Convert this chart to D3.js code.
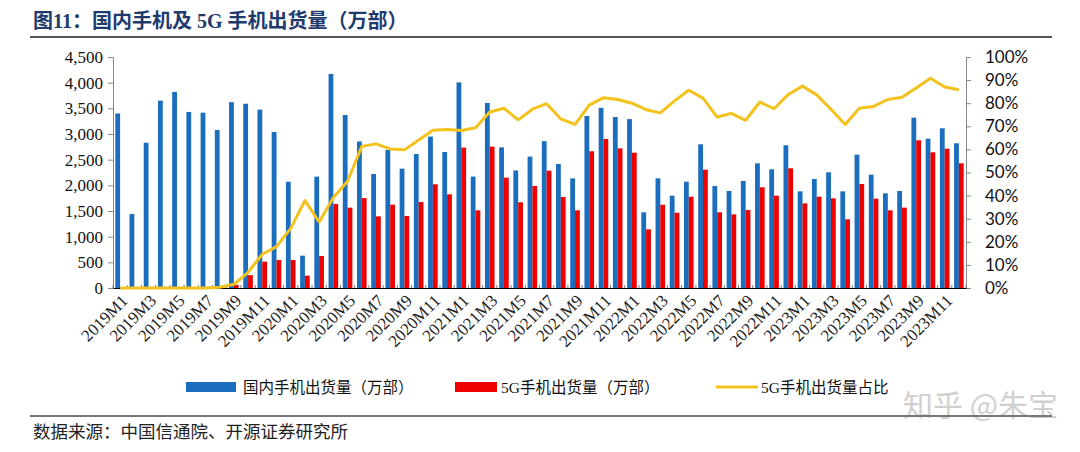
<!DOCTYPE html>
<html><head><meta charset="utf-8">
<script src="https://cdn.jsdelivr.net/npm/d3@7/dist/d3.min.js"></script>
<style>
html,body{margin:0;padding:0;background:#fff;}
svg{display:block;}
</style></head>
<body>
<svg id="chart" width="1080" height="452"></svg>
<script>
const months = [];
for (const y of [2019, 2020, 2021, 2022, 2023]) for (let m = 1; m <= 12; m++) months.push(y + "M" + m);

const domestic = [
  3400, 1440, 2830, 3650, 3820, 3430, 3415, 3080, 3620, 3590, 3475, 3040,
  2070, 630, 2170, 4170, 3370, 2855, 2220, 2690, 2325, 2610, 2950, 2650,
  4005, 2170, 3605, 2740, 2290, 2560, 2860, 2415, 2135, 3350, 3510, 3330,
  3290, 1475, 2137, 1798, 2071, 2799, 1987, 1890, 2085, 2429, 2312, 2780,
  1883, 2123, 2254, 1883, 2597, 2208, 1845, 1890, 3318, 2909, 3111, 2819
];
const fiveG = [
  0, 0, 0, 0, 0, 0, 0, 10, 60, 250, 513, 545,
  545, 240, 623, 1636, 1565, 1753, 1395, 1623, 1403, 1675, 2020, 1825,
  2735, 1513, 2753, 2150, 1670, 1987, 2285, 1773, 1513, 2663, 2903, 2720,
  2636, 1143, 1623, 1467, 1779, 2305, 1474, 1435, 1520, 1961, 1799, 2332,
  1649, 1779, 1747, 1338, 2026, 1740, 1513, 1565, 2877, 2643, 2714, 2429
];
const share = [
  0, 0, 0, 0, 0, 0, 0, 0.3, 1.6, 6.8, 14.6, 17.9,
  25.8, 37.8, 28.6, 39.2, 46.2, 61.3, 62.4, 60.2, 59.8, 64.1, 68.3, 68.6,
  68.2, 69.4, 76.2, 77.8, 72.8, 77.4, 79.8, 73.2, 70.8, 79.2, 82.4, 81.6,
  80.0, 77.2, 75.8, 81.0, 85.6, 82.2, 74.0, 75.6, 72.6, 80.5, 77.6, 83.8,
  87.4, 83.6, 77.4, 70.8, 77.8, 78.6, 81.6, 82.6, 86.6, 90.8, 87.0, 85.8
];
const leftTicks = [0, 500, 1000, 1500, 2000, 2500, 3000, 3500, 4000, 4500];
const rightTicks = [0, 10, 20, 30, 40, 50, 60, 70, 80, 90, 100];
const seriesNames = ["国内手机出货量（万部）", "5G手机出货量（万部）", "5G手机出货量占比"];
const titleText = "图11：国内手机及 5G 手机出货量（万部）";
const sourceText = "数据来源：中国信通院、开源证券研究所";
const watermark = "知乎 @朱宝";

const C_BLUE = "#1b6dbd", C_RED = "#ee0000", C_YEL = "#f4c21c";
const SERIF = "'Liberation Serif','DejaVu Serif',serif";
const CJK = "'Noto Sans CJK SC','Noto Sans CJK JP',sans-serif";

const svg = d3.select("#chart");
const L = 113, R = 966, T = 57, B = 288;

const x = d3.scaleBand().domain(months).range([L, R]).paddingInner(0).paddingOuter(0);
const xs = d3.scaleBand().domain(["d", "g"]).range([0, x.bandwidth()]).paddingInner(0).paddingOuter(0.48);
const yL = d3.scaleLinear().domain([0, 4500]).range([B, T]);
const yR = d3.scaleLinear().domain([0, 100]).range([B, T]);

// Title
svg.append("text").attr("x", 33).attr("y", 28).text(titleText)
  .attr("font-family", "'Liberation Serif'," + CJK).attr("font-weight", "bold")
  .attr("font-size", 20).attr("fill", "#1f3a6d").attr("xml:space", "preserve");
svg.append("line").attr("x1", 30).attr("x2", 1052).attr("y1", 37).attr("y2", 37)
  .attr("stroke", "#555").attr("stroke-width", 2);

// Left axis
const gL = svg.append("g").attr("transform", `translate(${L},0)`)
  .call(d3.axisLeft(yL).tickValues(leftTicks).tickSize(5).tickPadding(5).tickFormat(d3.format(",")));
gL.select(".domain").attr("stroke", "#888");
gL.selectAll(".tick line").attr("stroke", "#888");
gL.selectAll("text").attr("font-family", SERIF).attr("font-size", 17).attr("fill", "#111");

// Right axis
const gR = svg.append("g").attr("transform", `translate(${R},0)`)
  .call(d3.axisRight(yR).tickValues(rightTicks).tickSize(5).tickPadding(14).tickFormat(d => d + "%"));
gR.select(".domain").attr("stroke", "#888");
gR.selectAll(".tick line").attr("stroke", "#888");
gR.selectAll("text").attr("font-family", "Lato,'Open Sans',sans-serif").attr("font-size", 17).attr("fill", "#111");

// Bars
svg.append("g").selectAll("rect.d").data(months).join("rect")
  .attr("x", (m) => x(m) + xs("d")).attr("width", xs.bandwidth())
  .attr("y", (m, i) => yL(domestic[i])).attr("height", (m, i) => B - yL(domestic[i]))
  .attr("fill", C_BLUE);
svg.append("g").selectAll("rect.g").data(months).join("rect")
  .attr("x", (m) => x(m) + xs("g")).attr("width", xs.bandwidth())
  .attr("y", (m, i) => yL(fiveG[i])).attr("height", (m, i) => B - yL(fiveG[i]))
  .attr("fill", C_RED);

// X axis
const gX = svg.append("g").attr("transform", `translate(0,${B})`)
  .call(d3.axisBottom(x).tickSize(0).tickFormat(""));
gX.select(".domain").attr("stroke", "#000").attr("stroke-width", 1.2);
svg.append("g").selectAll("line").data(months.concat(["end"])).join("line")
  .attr("x1", (m, i) => L + i * x.step()).attr("x2", (m, i) => L + i * x.step())
  .attr("y1", B).attr("y2", B - 3).attr("stroke", "#777");
svg.append("g").selectAll("text").data(months.filter((m, i) => i % 2 === 0)).join("text")
  .attr("transform", m => `translate(${x(m) + x.bandwidth() / 2 + 6},${B + 11}) rotate(-45)`)
  .attr("text-anchor", "end").attr("dominant-baseline", "middle")
  .attr("font-family", SERIF).attr("font-size", 17).attr("fill", "#222").text(m => m);

// Line
const line = d3.line().x((d, i) => x(months[i]) + x.bandwidth() / 2).y(d => yR(d));
svg.append("path").datum(share).attr("d", line).attr("fill", "none")
  .attr("stroke", C_YEL).attr("stroke-width", 3).attr("stroke-linejoin", "round");

// Legend
const lg = svg.append("g").attr("font-family", "'Liberation Serif'," + CJK).attr("font-size", 15.5).attr("fill", "#111");
const legItems = [
  { x: 186, w: 50, tx: 243, c: C_BLUE, t: "rect" },
  { x: 455, w: 42, tx: 501, c: C_RED, t: "rect" },
  { x: 716, w: 42, tx: 761, c: C_YEL, t: "line" }
];
legItems.forEach((it, i) => {
  if (it.t === "rect") lg.append("rect").attr("x", it.x).attr("y", 382).attr("width", it.w).attr("height", 10).attr("fill", it.c);
  else lg.append("line").attr("x1", it.x).attr("x2", it.x + it.w).attr("y1", 387).attr("y2", 387).attr("stroke", it.c).attr("stroke-width", 3);
  lg.append("text").attr("x", it.tx).attr("y", 392.5).text(seriesNames[i]);
});

// Watermark
svg.append("text").attr("x", 903).attr("y", 416).text(watermark)
  .attr("font-family", CJK).attr("font-size", 30).attr("fill", "#c8c8c8").attr("opacity", 0.85);

// Bottom rule & source
svg.append("line").attr("x1", 30).attr("x2", 1052).attr("y1", 416).attr("y2", 416)
  .attr("stroke", "#777").attr("stroke-width", 2);
svg.append("text").attr("x", 33).attr("y", 438).text(sourceText)
  .attr("font-family", CJK).attr("font-size", 17.5).attr("fill", "#222");
</script>
</body></html>
